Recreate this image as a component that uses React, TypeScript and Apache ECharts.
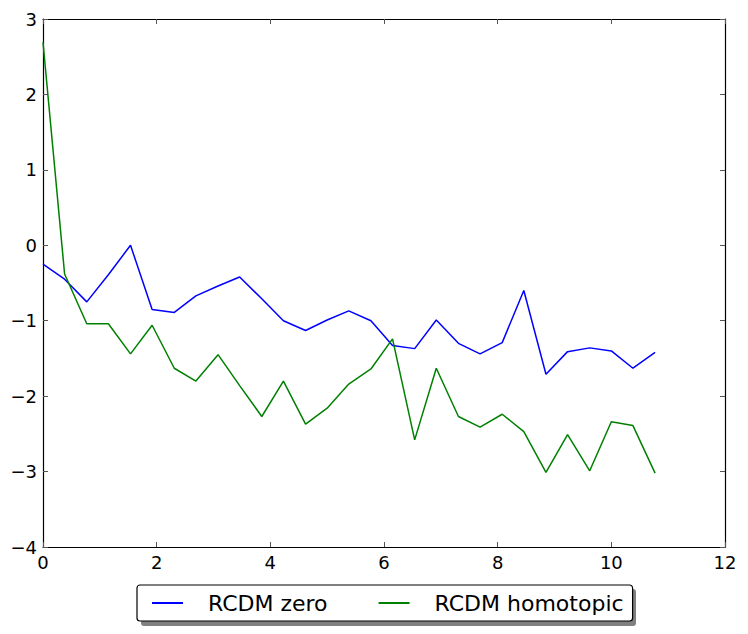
import React, { useEffect, useRef } from "react";
import * as echarts from "echarts";

const xValues = [0, 0.38, 0.77, 1.15, 1.54, 1.92, 2.31, 2.69, 3.08, 3.46, 3.85, 4.23, 4.62, 5.0, 5.38, 5.77, 6.15, 6.54, 6.92, 7.31, 7.69, 8.08, 8.46, 8.85, 9.23, 9.62, 10.0, 10.38, 10.77];
const rcdmZero = [-0.25, -0.45, -0.75, -0.39, 0.0, -0.85, -0.89, -0.67, -0.54, -0.42, -0.71, -1.0, -1.13, -0.99, -0.87, -1.0, -1.33, -1.37, -0.99, -1.3, -1.44, -1.29, -0.6, -1.71, -1.41, -1.36, -1.4, -1.63, -1.42];
const rcdmHomotopic = [2.69, -0.38, -1.04, -1.04, -1.44, -1.06, -1.63, -1.8, -1.45, -1.86, -2.27, -1.8, -2.37, -2.16, -1.84, -1.64, -1.24, -2.58, -1.63, -2.27, -2.41, -2.24, -2.47, -3.01, -2.51, -2.99, -2.34, -2.39, -3.02];
const seriesNames = ["RCDM zero", "RCDM homotopic"];
const seriesColors = ["#0000ff", "#008000"];

export default function App() {
  const ref = useRef<HTMLDivElement>(null);
  useEffect(() => {
    const chart = echarts.init(ref.current!, null, { renderer: "svg" });
    const font = "DejaVu Sans";
    const tickStyle = { show: true, inside: true, length: 5, lineStyle: { color: "#555", width: 1 } };
    const axisLine = { show: true, onZero: false, lineStyle: { color: "#000", width: 1.2 } };
    chart.setOption({
      animation: false,
      backgroundColor: "#fff",
      grid: { left: 43, right: 23, top: 19, bottom: 87, containLabel: false },
      xAxis: [
        {
          type: "value", min: 0, max: 12, interval: 2, position: "bottom",
          axisLine, axisTick: tickStyle, splitLine: { show: false },
          axisLabel: { color: "#000", fontFamily: font, fontSize: 18, margin: 6 },
        },
        {
          type: "value", min: 0, max: 12, interval: 2, position: "top",
          axisLine, axisTick: tickStyle, splitLine: { show: false }, axisLabel: { show: false },
        },
      ],
      yAxis: [
        {
          type: "value", min: -4, max: 3, interval: 1, position: "left",
          axisLine, axisTick: tickStyle, splitLine: { show: false },
          axisLabel: {
            color: "#000", fontFamily: font, fontSize: 18, margin: 6,
            formatter: (v: number) => String(v).replace("-", "\u2212"),
          },
        },
        {
          type: "value", min: -4, max: 3, interval: 1, position: "right",
          axisLine, axisTick: tickStyle, splitLine: { show: false }, axisLabel: { show: false },
        },
      ],
      legend: {
        left: 137, top: 585, orient: "horizontal",
        padding: [7, 9, 7, 15],
        itemWidth: 31, itemHeight: 2, itemGap: 51,
        icon: "rect",
        backgroundColor: "#fff", borderColor: "#000", borderWidth: 1.2, borderRadius: 3,
        textStyle: { fontFamily: font, fontSize: 22, color: "#000", padding: [0, 0, 0, 20] },
        data: seriesNames,
        z: 10,
      },
      graphic: [
        { type: "rect", left: 141, top: 589, shape: { width: 495, height: 37, r: 3 }, style: { fill: "#808080" }, z: 1 },
      ],
      series: [
        {
          name: seriesNames[0], type: "line", showSymbol: false, symbol: "none",
          data: xValues.map((x, i) => [x, rcdmZero[i]]),
          lineStyle: { color: seriesColors[0], width: 1.5 }, itemStyle: { color: seriesColors[0] },
        },
        {
          name: seriesNames[1], type: "line", showSymbol: false, symbol: "none",
          data: xValues.map((x, i) => [x, rcdmHomotopic[i]]),
          lineStyle: { color: seriesColors[1], width: 1.5 }, itemStyle: { color: seriesColors[1] },
        },
      ],
    });
    return () => chart.dispose();
  }, []);
  return <div ref={ref} style={{ width: 748, height: 634, position: "absolute", left: 0, top: 0 }} />;
}
